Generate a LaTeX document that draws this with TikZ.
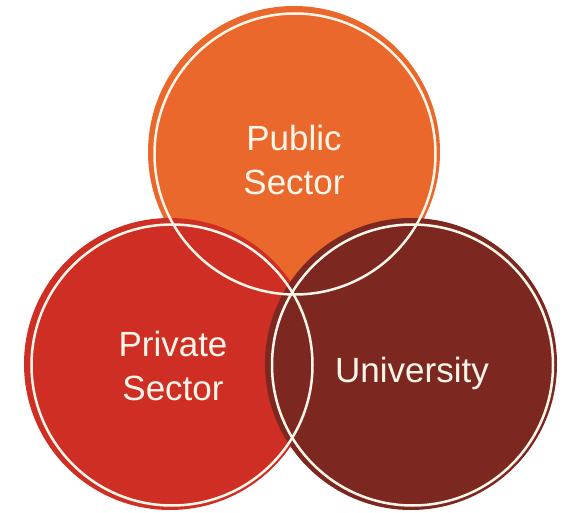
\documentclass[tikz,border=0pt]{standalone}
\usepackage{fontspec}
\setmainfont{Liberation Sans}
\definecolor{cOrange}{RGB}{234,104,44}
\definecolor{cRed}{RGB}{207,46,37}
\definecolor{cDark}{RGB}{124,40,32}
\definecolor{ringc}{RGB}{255,246,234}
\begin{document}
\begin{tikzpicture}[x=1pt,y=-1pt,
  fillc/.style={circle,inner sep=0pt,minimum size=292pt,draw=none},
  ring/.style={circle,inner sep=0pt,minimum size=281pt,draw=ringc,line width=2.5pt},
  lbl/.style={text=ringc,font=\fontsize{35}{44}\selectfont,align=center,inner sep=0pt}]
\useasboundingbox (0,0) rectangle (563,513);
\fill[white] (0,0) rectangle (563,513);
\node[fillc,fill=cOrange] (pubF) at (294,152) {};
\node[fillc,fill=cRed] (priF) at (170,364) {};
\node[fillc,fill=cDark] (uniF) at (411,364) {};
\node[ring] (pubR) at (295,154) {};
\node[ring] (priR) at (172,365) {};
\node[ring] (uniR) at (412.5,365) {};
\node[lbl] (pubT) at (294,160) {Public\\Sector};
\node[lbl] (priT) at (173,366) {Private\\Sector};
\node[lbl] (uniT) at (412,373) {University};
\end{tikzpicture}
\end{document}
